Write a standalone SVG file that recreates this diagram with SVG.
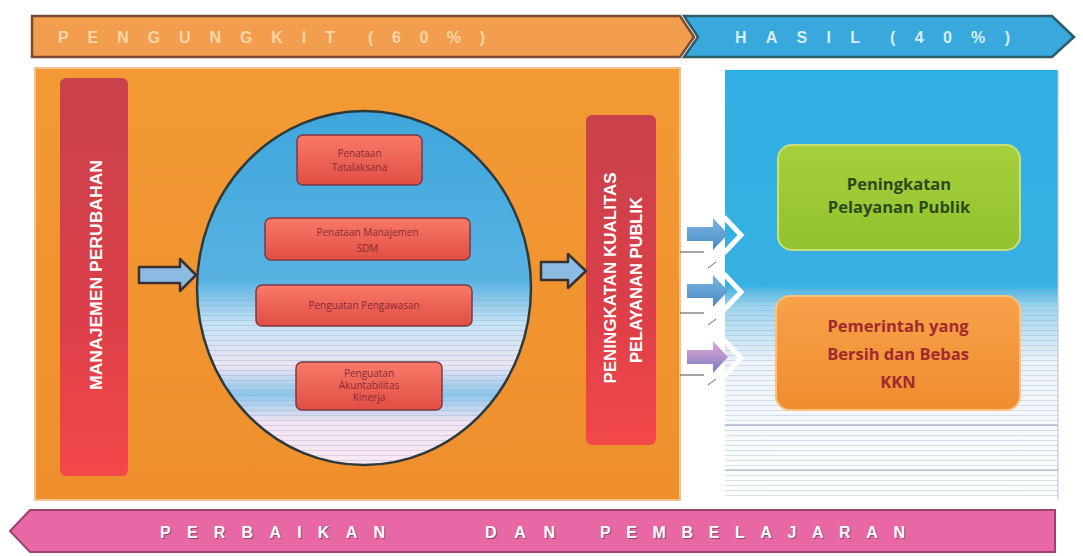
<svg xmlns="http://www.w3.org/2000/svg" width="1083" height="556" viewBox="0 0 1083 556">
  <defs>
    <linearGradient id="gOrangePanel" x1="0" y1="0" x2="0" y2="1">
      <stop offset="0" stop-color="#f39a35"/>
      <stop offset="1" stop-color="#ee8f2c"/>
    </linearGradient>
    <linearGradient id="gBluePanel" x1="0" y1="0" x2="0" y2="1">
      <stop offset="0" stop-color="#2fb0e4"/>
      <stop offset="0.5" stop-color="#37b0e2"/>
      <stop offset="0.55" stop-color="#9fd4ee"/>
      <stop offset="0.68" stop-color="#eef3fa"/>
      <stop offset="1" stop-color="#ffffff"/>
    </linearGradient>
    <linearGradient id="gRedBar" x1="0" y1="0" x2="0" y2="1">
      <stop offset="0" stop-color="#c8424c"/>
      <stop offset="0.6" stop-color="#dc3f48"/>
      <stop offset="1" stop-color="#f4484a"/>
    </linearGradient>
    <linearGradient id="gCircle" x1="0" y1="0" x2="0" y2="1">
      <stop offset="0" stop-color="#3ea6dc"/>
      <stop offset="0.48" stop-color="#58b2e2"/>
      <stop offset="0.6" stop-color="#c6e2f4"/>
      <stop offset="0.72" stop-color="#ece4f2"/>
      <stop offset="0.8" stop-color="#8cc6ea"/>
      <stop offset="0.88" stop-color="#f4e4f2"/>
      <stop offset="1" stop-color="#fbe8f4"/>
    </linearGradient>
    <linearGradient id="gInner" x1="0" y1="0" x2="0" y2="1">
      <stop offset="0" stop-color="#f77a68"/>
      <stop offset="1" stop-color="#e24d44"/>
    </linearGradient>
    <linearGradient id="gGreen" x1="0" y1="0" x2="0" y2="1">
      <stop offset="0" stop-color="#a6d03c"/>
      <stop offset="1" stop-color="#92c22e"/>
    </linearGradient>
    <linearGradient id="gOrangeBox" x1="0" y1="0" x2="0" y2="1">
      <stop offset="0" stop-color="#f7a24a"/>
      <stop offset="1" stop-color="#f08c30"/>
    </linearGradient>
    <linearGradient id="gArrowBlue" x1="0" y1="0" x2="0" y2="1">
      <stop offset="0" stop-color="#7ab4e0"/>
      <stop offset="1" stop-color="#4a8ac4"/>
    </linearGradient>
    <linearGradient id="gArrowPurple" x1="0" y1="0" x2="0" y2="1">
      <stop offset="0" stop-color="#e4a8d4"/>
      <stop offset="1" stop-color="#7a7cc4"/>
    </linearGradient>
    <pattern id="stripes" width="8" height="5" patternUnits="userSpaceOnUse">
      <rect width="8" height="1" fill="#8aa8c8" opacity="0.35"/>
    </pattern>
    <clipPath id="circleClip">
      <ellipse cx="364" cy="288" rx="167" ry="177"/>
    </clipPath>
  </defs>
  <style>
    .banner-text { font-family: "Liberation Sans", Arial, sans-serif; font-weight: bold; font-size: 16px; }
    .bar-text { font-family: "Liberation Sans", Arial, sans-serif; font-weight: bold; font-size: 17px; fill: #ffffff; }
    .inner { fill: url(#gInner); stroke: #7c3844; stroke-width: 1.5; }
    .inner-text { font-family: "Open Sans", "Noto Sans", sans-serif; font-size: 10px; fill: #8a2a34; text-anchor: middle; }
    .block-arrow { stroke: #3a3030; stroke-width: 2.5; stroke-linejoin: round; fill: #8cbce4; }
    .chev { fill: none; stroke: #ffffff; stroke-width: 5; stroke-linejoin: miter; }
    .result-text { font-family: "Open Sans", "Noto Sans", sans-serif; font-weight: bold; font-size: 16.5px; text-anchor: middle; }
  </style>

  <rect width="1083" height="556" fill="#ffffff"/>

  <!-- top banner: drivers / results -->
  <g id="banner-pengungkit">
    <path d="M32,16 L680,16 L694,37 L680,57 L32,57 Z" fill="#f29e4e" stroke="#7a4a32" stroke-width="2.5"/>
    <text class="banner-text" x="58" y="43" fill="#fbd6a8" textLength="277" lengthAdjust="spacing">PENGUNGKIT</text>
    <text class="banner-text" x="368" y="43" fill="#fbd6a8" textLength="117" lengthAdjust="spacing">(60%)</text>
  </g>
  <g id="banner-hasil">
    <path d="M684,16 L1052,16 L1074,37 L1052,57 L684,57 L698,37 Z" fill="#39a8dc" stroke="#2c5c68" stroke-width="2.5"/>
    <text class="banner-text" x="735" y="43" fill="#d6eef8" textLength="125" lengthAdjust="spacing">HASIL</text>
    <text class="banner-text" x="890" y="43" fill="#d6eef8" textLength="120" lengthAdjust="spacing">(40%)</text>
  </g>

  <!-- main panels -->
  <g id="panel-pengungkit">
    <rect x="35" y="68" width="645" height="432" fill="url(#gOrangePanel)" stroke="#f6c28a" stroke-width="2"/>
  </g>
  <g id="panel-hasil">
    <rect x="725" y="70" width="333" height="430" fill="url(#gBluePanel)"/>
    <rect x="725" y="290" width="333" height="210" fill="url(#stripes)"/>
    <line x1="725" y1="425" x2="1058" y2="425" stroke="#8aa0b8" stroke-width="1"/>
    <line x1="725" y1="470" x2="1058" y2="470" stroke="#9aaabb" stroke-width="1"/>
    <line x1="1058" y1="70" x2="1058" y2="500" stroke="#b8c4d0" stroke-width="1"/>
  </g>

  <!-- left column -->
  <g id="bar-manajemen">
    <rect x="60" y="78" width="68" height="398" rx="6" fill="url(#gRedBar)"/>
    <text class="bar-text" transform="translate(102,275) rotate(-90)" text-anchor="middle" textLength="230" lengthAdjust="spacingAndGlyphs">MANAJEMEN  PERUBAHAN</text>
  </g>

  <!-- reform areas circle -->
  <g id="circle-area">
    <ellipse cx="364" cy="288" rx="167" ry="177" fill="url(#gCircle)"/>
    <rect x="190" y="300" width="350" height="170" fill="url(#stripes)" clip-path="url(#circleClip)"/>
    <ellipse cx="364" cy="288" rx="167" ry="177" fill="none" stroke="#2e3a3a" stroke-width="2.5"/>
  </g>
  <g id="box-tatalaksana">
    <rect class="inner" x="297" y="135" width="125" height="50" rx="6"/>
    <text class="inner-text" x="359.5" y="157">Penataan</text>
    <text class="inner-text" x="359.5" y="171">Tatalaksana</text>
  </g>
  <g id="box-sdm">
    <rect class="inner" x="265" y="218" width="205" height="42" rx="6"/>
    <text class="inner-text" x="367.5" y="236">Penataan Manajemen</text>
    <text class="inner-text" x="367.5" y="252">SDM</text>
  </g>
  <g id="box-pengawasan">
    <rect class="inner" x="256" y="285" width="216" height="41" rx="6"/>
    <text class="inner-text" x="364" y="309">Penguatan Pengawasan</text>
  </g>
  <g id="box-akuntabilitas">
    <rect class="inner" x="296" y="362" width="146" height="48" rx="6"/>
    <text class="inner-text" x="369" y="377" font-size="8.5">Penguatan</text>
    <text class="inner-text" x="369" y="389" font-size="8.5">Akuntabilitas</text>
    <text class="inner-text" x="369" y="401" font-size="8.5">Kinerja</text>
  </g>

  <!-- outcome column -->
  <g id="bar-peningkatan">
    <rect x="586" y="115" width="70" height="330" rx="6" fill="url(#gRedBar)"/>
    <text class="bar-text" transform="translate(616,278) rotate(-90)" text-anchor="middle" textLength="211" lengthAdjust="spacingAndGlyphs">PENINGKATAN KUALITAS</text>
    <text class="bar-text" transform="translate(642,280) rotate(-90)" text-anchor="middle" textLength="166" lengthAdjust="spacingAndGlyphs">PELAYANAN PUBLIK</text>
  </g>

  <!-- results -->
  <g id="box-pelayanan">
    <rect x="778" y="145" width="242" height="105" rx="14" fill="url(#gGreen)" stroke="#c8e07a" stroke-width="2"/>
    <text class="result-text" x="899" y="190" fill="#2c4a1c">Peningkatan</text>
    <text class="result-text" x="899" y="213" fill="#2c4a1c">Pelayanan Publik</text>
  </g>
  <g id="box-pemerintah">
    <rect x="776" y="296" width="244" height="114" rx="14" fill="url(#gOrangeBox)" stroke="#f8c27a" stroke-width="2"/>
    <text class="result-text" x="898" y="332" fill="#a02a2e">Pemerintah yang</text>
    <text class="result-text" x="898" y="360" fill="#a02a2e">Bersih dan Bebas</text>
    <text class="result-text" x="898" y="388" fill="#a02a2e">KKN</text>
  </g>

  <!-- bottom banner: feedback loop -->
  <g id="banner-perbaikan">
    <path d="M30,510 L1055,510 L1055,552 L30,552 L10,531 Z" fill="#e868a6" stroke="#9a4272" stroke-width="2"/>
    <g class="banner-text" fill="#5a3040" opacity="0.6">
      <text x="161" y="539" textLength="225" lengthAdjust="spacing">PERBAIKAN</text>
      <text x="486" y="539" textLength="70" lengthAdjust="spacing">DAN</text>
      <text x="601" y="539" textLength="305" lengthAdjust="spacing">PEMBELAJARAN</text>
    </g>
    <g class="banner-text" fill="#ffffff">
      <text x="160" y="538" textLength="225" lengthAdjust="spacing">PERBAIKAN</text>
      <text x="485" y="538" textLength="70" lengthAdjust="spacing">DAN</text>
      <text x="600" y="538" textLength="305" lengthAdjust="spacing">PEMBELAJARAN</text>
    </g>
  </g>

  <!-- connectors -->
  <g id="connectors">
    <path class="block-arrow" d="M139,267 L180,267 L180,259 L196,275 L180,291 L180,283 L139,283 Z"/>
    <path class="block-arrow" d="M541,262 L568,262 L568,254 L586,271 L568,288 L568,280 L541,280 Z"/>

    <path d="M687,227 L713,227 L713,218 L728,234 L713,250 L713,241 L687,241 Z" fill="url(#gArrowBlue)"/>
    <path class="chev" d="M724,217 L741,235 L724,253"/>
    <line x1="680" y1="252" x2="704" y2="252" stroke="#4a4a50" stroke-width="1"/>
    <line x1="708" y1="268" x2="716" y2="262" stroke="#6a6a70" stroke-width="1"/>

    <path d="M687,284 L713,284 L713,275 L728,291 L713,307 L713,298 L687,298 Z" fill="url(#gArrowBlue)"/>
    <path class="chev" d="M724,274 L741,292 L724,310"/>
    <line x1="680" y1="313" x2="704" y2="313" stroke="#4a4a50" stroke-width="1"/>
    <line x1="708" y1="325" x2="716" y2="319" stroke="#6a6a70" stroke-width="1"/>

    <path d="M687,350 L713,350 L713,341 L728,357 L713,373 L713,364 L687,364 Z" fill="url(#gArrowPurple)"/>
    <path class="chev" d="M724,340 L741,358 L724,376"/>
    <line x1="680" y1="375" x2="704" y2="375" stroke="#4a4a50" stroke-width="1"/>
    <line x1="708" y1="385" x2="716" y2="379" stroke="#6a6a70" stroke-width="1"/>
  </g>
</svg>
